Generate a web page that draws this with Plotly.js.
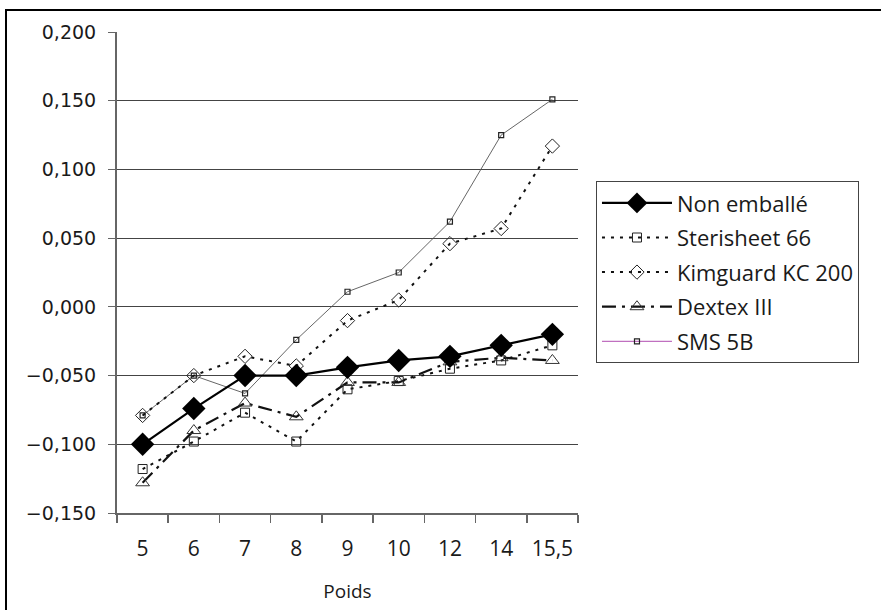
<!DOCTYPE html>
<html>
<head>
<meta charset="utf-8">
<script src="https://cdn.plot.ly/plotly-3.0.1.min.js"></script>
<style>
  html, body { margin: 0; padding: 0; background: #fff; }
  #wrap { position: relative; width: 881px; height: 610px; overflow: hidden; }
  #chart { position: absolute; left: 0; top: 0; width: 881px; height: 610px; }
  #frame { position: absolute; left: 5px; top: 9px; width: 900px; height: 700px;
           border-left: 2px solid #000; border-top: 2px solid #000; pointer-events: none; }
</style>
</head>
<body>
<div id="wrap">
  <div id="chart"></div>
  <div id="frame"></div>
</div>
<script>
const categories = ["5", "6", "7", "8", "9", "10", "12", "14", "15,5"];
const nonEmballe = [-0.100, -0.074, -0.050, -0.050, -0.044, -0.039, -0.036, -0.028, -0.020];
const sterisheet66 = [-0.118, -0.098, -0.077, -0.098, -0.060, -0.054, -0.045, -0.039, -0.028];
const kimguardKC200 = [-0.079, -0.050, -0.036, -0.043, -0.010, 0.005, 0.046, 0.057, 0.117];
const dextexIII = [-0.128, -0.090, -0.070, -0.080, -0.055, -0.055, -0.040, -0.037, -0.039];
const sms5B = [-0.079, -0.050, -0.063, -0.024, 0.011, 0.025, 0.062, 0.125, 0.151];
const seriesNames = ["Non emballé", "Sterisheet 66", "Kimguard KC 200", "Dextex III", "SMS 5B"];
const yTickVals = [-0.15, -0.10, -0.05, 0.00, 0.05, 0.10, 0.15, 0.20];

const textColor = "#1a1a1a";
const legendFont = { family: "Open Sans, sans-serif", size: 22, color: textColor };

const traces = [
  {
    x: categories, y: sms5B, name: seriesNames[4], type: "scatter", mode: "lines+markers",
    legendgroup: "g5", showlegend: false, legendrank: 5,
    line: { color: "#555", width: 0.9 },
    marker: { symbol: "square-open", size: 5, color: "#222", line: { width: 1.2 } }
  },
  {
    x: categories, y: kimguardKC200, name: seriesNames[2], type: "scatter", mode: "lines+markers",
    legendgroup: "g3", legendrank: 3,
    line: { color: "#111", width: 2, dash: "3px,6px" },
    marker: { symbol: "diamond-open", size: 11, color: "#222", line: { width: 1 } }
  },
  {
    x: categories, y: sterisheet66, name: seriesNames[1], type: "scatter", mode: "lines+markers",
    legendgroup: "g2", legendrank: 2,
    line: { color: "#111", width: 2, dash: "3px,6px" },
    marker: { symbol: "square-open", size: 9, color: "#222", line: { width: 1 } }
  },
  {
    x: categories, y: dextexIII, name: seriesNames[3], type: "scatter", mode: "lines+markers",
    legendgroup: "g4", legendrank: 4,
    line: { color: "#111", width: 2.2, dash: "14px,6px,3px,6px" },
    marker: { symbol: "triangle-up-open", size: 12, color: "#333", line: { width: 1 } }
  },
  {
    x: categories, y: nonEmballe, name: seriesNames[0], type: "scatter", mode: "lines+markers",
    legendgroup: "g1", legendrank: 1,
    line: { color: "#000", width: 2.2 },
    marker: { symbol: "diamond", size: 18, color: "#000" }
  },
  {
    x: [null], y: [null], name: seriesNames[4], type: "scatter", mode: "lines+markers",
    legendgroup: "g5", showlegend: true, legendrank: 5,
    line: { color: "#c070c0", width: 1.2 },
    marker: { symbol: "square-open", size: 5, color: "#222", line: { width: 1.2 } }
  }
];

const layout = {
  width: 881, height: 610,
  margin: { l: 117, r: 303, t: 32, b: 97 },
  paper_bgcolor: "#fff", plot_bgcolor: "#fff",
  showlegend: true,
  legend: {
    x: 1.039, y: 0.69, xanchor: "left", yanchor: "top",
    bordercolor: "#444", borderwidth: 1, bgcolor: "#fff",
    font: legendFont, traceorder: "grouped", tracegroupgap: 3,
    itemwidth: 70
  },
  xaxis: {
    type: "category", categoryorder: "array", categoryarray: categories,
    range: [-0.5, 8.5],
    showgrid: false, zeroline: false,
    showline: true, linecolor: "#666", linewidth: 1.5,
    ticks: "outside", tickson: "boundaries", ticklen: 8, tickcolor: "#666", tickwidth: 1.5,
    ticklabelstandoff: 16,
    tickfont: { family: "Open Sans, sans-serif", size: 21, color: textColor },
    title: { text: "Poids", font: { family: "Open Sans, sans-serif", size: 19, color: textColor }, standoff: 24 }
  },
  yaxis: {
    range: [-0.15, 0.2], tickvals: yTickVals, tickformat: ".3f",
    showgrid: true, gridcolor: "#444", gridwidth: 1,
    zeroline: false,
    showline: true, linecolor: "#666", linewidth: 2,
    ticks: "outside", ticklen: 7, tickcolor: "#666", tickwidth: 1,
    ticklabelstandoff: 8,
    tickfont: { family: "DejaVu Sans, sans-serif", size: 19, color: textColor }
  },
  separators: ", ",
  font: { family: "Open Sans, sans-serif" }
};

Plotly.newPlot("chart", traces, layout, { staticPlot: true, displayModeBar: false });
</script>
</body>
</html>
